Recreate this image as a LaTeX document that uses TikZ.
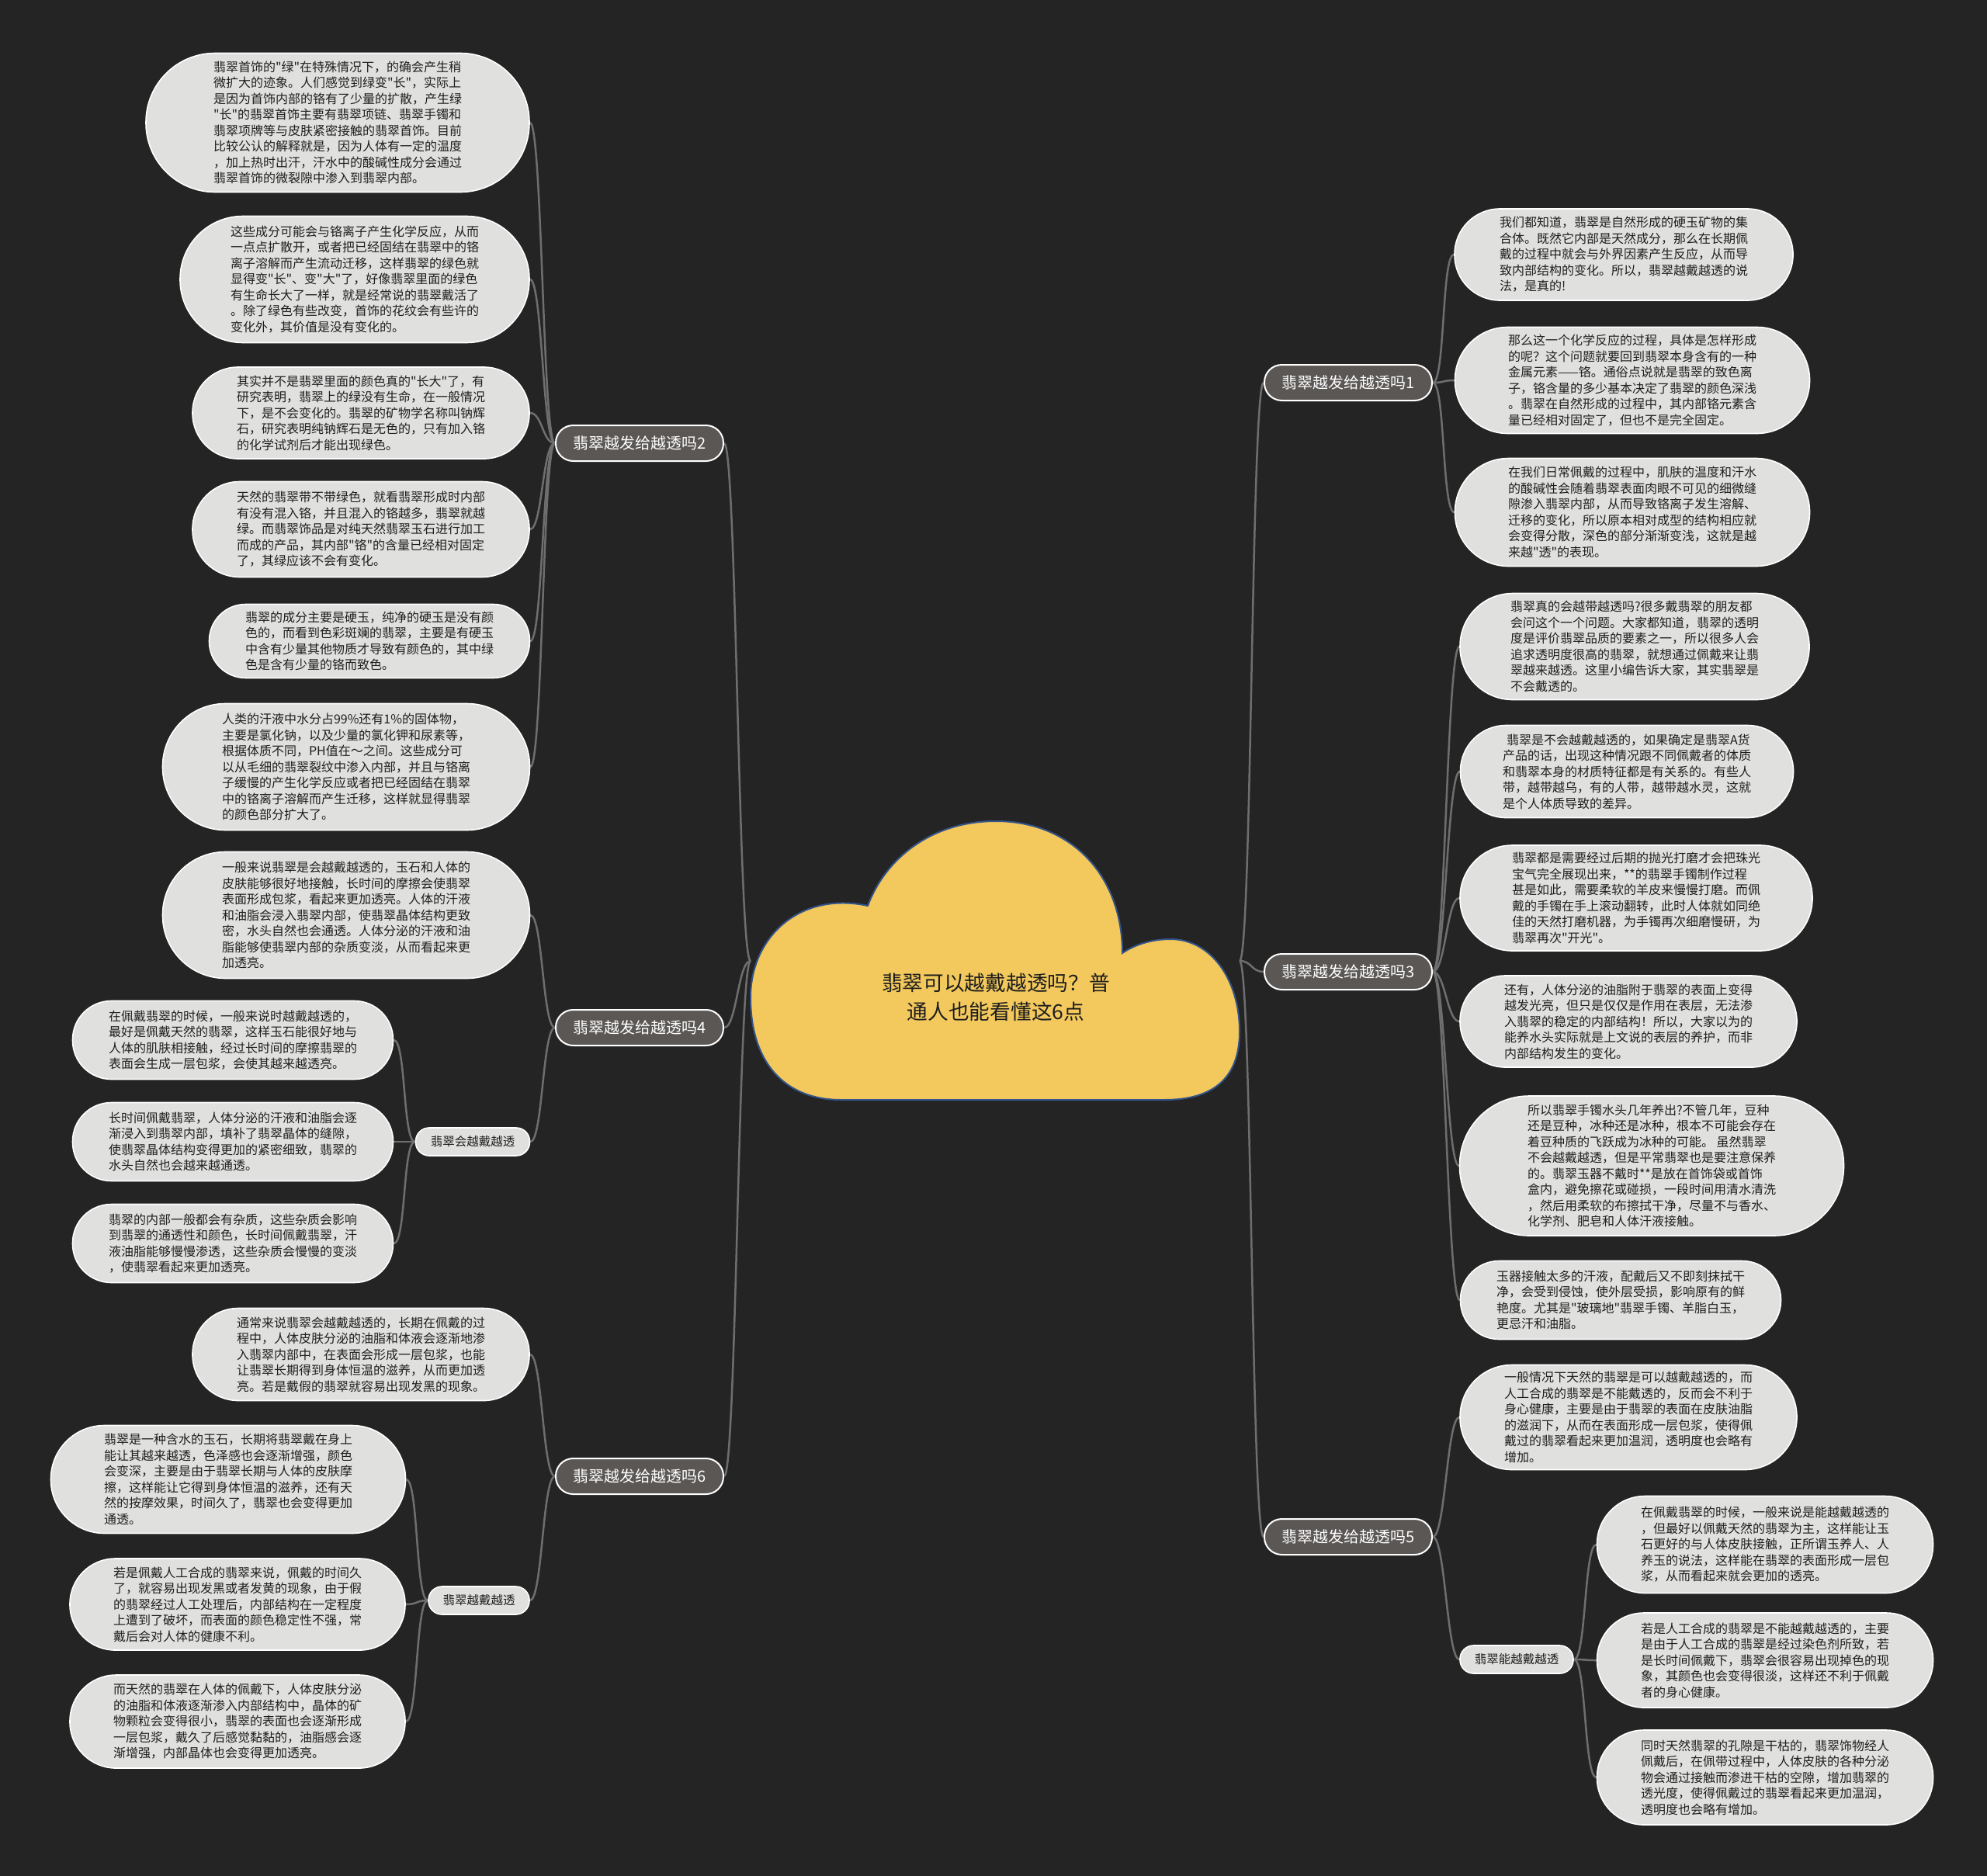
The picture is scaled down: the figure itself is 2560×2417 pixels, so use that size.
\documentclass[tikz,border=0pt]{standalone}
\usepackage{fontspec}
\setmainfont{Noto Sans CJK SC}
\newfontfamily\cjkf{Noto Sans CJK SC}
\definecolor{bgc}{HTML}{242424}
\definecolor{leaffill}{HTML}{E0E0DF}
\definecolor{branchfill}{HTML}{5A5755}
\definecolor{cloudfill}{HTML}{F3C95D}
\definecolor{cloudline}{HTML}{34548A}
\definecolor{conncol}{HTML}{6E6E6E}
\definecolor{txt}{HTML}{1E1E1E}
\pgfdeclarelayer{back}
\pgfsetlayers{back,main}
\tikzset{
 leafbox/.style={draw=white, line width=1.6pt, fill=leaffill, text=txt, align=left, inner sep=0pt, font=\cjkf\fontsize{16}{20.5}\selectfont},
 branchbox/.style={draw=white, line width=2pt, fill=branchfill, text=white, inner sep=0pt, minimum width=216pt, minimum height=46pt, rounded corners=22.5pt, font=\cjkf\fontsize{20}{24}\selectfont},
 subbox/.style={draw=white, line width=1.6pt, fill=leaffill, text=txt, inner sep=0pt, minimum height=36pt, rounded corners=17.5pt, font=\cjkf\fontsize{15.5}{18}\selectfont},
 connline/.style={draw=conncol, line width=2.5pt},
 rootbox/.style={text=txt, align=center, inner sep=0pt, font=\cjkf\fontsize{26.7}{37.5}\selectfont},
}
\newcommand\leafat[6]{\node[leafbox,minimum width=#4pt,minimum height=#5pt,rounded corners=#5pt/2-0.5pt] (#1) at (#2,#3) {#6};}
\newcommand\linkL[2]{\draw[connline] (#1) .. controls +(-16,0) and +(16,0) .. (#2);}
\newcommand\linkR[2]{\draw[connline] (#1) .. controls +(16,0) and +(-16,0) .. (#2);}
\begin{document}
\begin{tikzpicture}[x=1pt,y=-1pt]
\begin{pgfonlayer}{back}
\fill[bgc] (0,0) rectangle (2560,2417);
\end{pgfonlayer}
\useasboundingbox (0,0) rectangle (2560,2417);

% central cloud
\draw[fill=cloudfill, draw=cloudline, line width=2pt]
 (1084,1417) -- (1500,1417)
 .. controls (1562,1417) and (1597,1390) .. (1597,1329)
 .. controls (1597,1262) and (1560,1210) .. (1508,1210)
 .. controls (1484,1210) and (1462,1217) .. (1446,1228)
 .. controls (1446,1128) and (1380,1058) .. (1283,1058)
 .. controls (1198,1058) and (1140,1108) .. (1118,1167)
 .. controls (1030,1148) and (967,1208) .. (967,1285)
 .. controls (967,1368) and (1010,1417) .. (1084,1417) -- cycle;
\node[rootbox] (root) at (1283,1285) {翡翠可以越戴越透吗？普\\通人也能看懂这6点};
\coordinate (rootW) at (967,1238);
\coordinate (rootE) at (1597,1238);

% main branches
\node[branchbox] (B1) at (1737,493) {翡翠越发给越透吗1};
\node[branchbox] (B3) at (1737,1252) {翡翠越发给越透吗3};
\node[branchbox] (B5) at (1737,1980) {翡翠越发给越透吗5};
\node[branchbox] (B2) at (824,571) {翡翠越发给越透吗2};
\node[branchbox] (B4) at (824,1324) {翡翠越发给越透吗4};
\node[branchbox] (B6) at (824,1902) {翡翠越发给越透吗6};

% sub branches
\node[subbox, minimum width=147pt] (S4) at (609,1471) {翡翠会越戴越透};
\node[subbox, minimum width=130pt] (S6) at (617,2062) {翡翠越戴越透};
\node[subbox, minimum width=146pt] (S5) at (1954,2138) {翡翠能越戴越透};

% left leaves
\leafat{L1}{435}{158}{494}{179}{翡翠首饰的"绿"在特殊情况下，的确会产生稍\\微扩大的迹象。人们感觉到绿变"长"，实际上\\是因为首饰内部的铬有了少量的扩散，产生绿\\"长"的翡翠首饰主要有翡翠项链、翡翠手镯和\\翡翠项牌等与皮肤紧密接触的翡翠首饰。目前\\比较公认的解释就是，因为人体有一定的温度\\，加上热时出汗，汗水中的酸碱性成分会通过\\翡翠首饰的微裂隙中渗入到翡翠内部。}
\leafat{L2}{457}{360}{450}{163}{这些成分可能会与铬离子产生化学反应，从而\\一点点扩散开，或者把已经固结在翡翠中的铬\\离子溶解而产生流动迁移，这样翡翠的绿色就\\显得变"长"、变"大"了，好像翡翠里面的绿色\\有生命长大了一样，就是经常说的翡翠戴活了\\。除了绿色有些改变，首饰的花纹会有些许的\\变化外，其价值是没有变化的。}
\leafat{L3}{465}{532}{434}{118}{其实并不是翡翠里面的颜色真的"长大"了，有\\研究表明，翡翠上的绿没有生命，在一般情况\\下，是不会变化的。翡翠的矿物学名称叫钠辉\\石，研究表明纯钠辉石是无色的，只有加入铬\\的化学试剂后才能出现绿色。}
\leafat{L4}{465}{682}{434}{123}{天然的翡翠带不带绿色，就看翡翠形成时内部\\有没有混入铬，并且混入的铬越多，翡翠就越\\绿。而翡翠饰品是对纯天然翡翠玉石进行加工\\而成的产品，其内部"铬"的含量已经相对固定\\了，其绿应该不会有变化。}
\leafat{L5}{476}{826}{413}{95}{翡翠的成分主要是硬玉，纯净的硬玉是没有颜\\色的，而看到色彩斑斓的翡翠，主要是有硬玉\\中含有少量其他物质才导致有颜色的，其中绿\\色是含有少量的铬而致色。}
\leafat{L6}{446}{988}{473}{163}{人类的汗液中水分占99\%还有1\%的固体物，\\主要是氯化钠，以及少量的氯化钾和尿素等，\\根据体质不同，PH值在～之间。这些成分可\\以从毛细的翡翠裂纹中渗入内部，并且与铬离\\子缓慢的产生化学反应或者把已经固结在翡翠\\中的铬离子溶解而产生迁移，这样就显得翡翠\\的颜色部分扩大了。}
\leafat{L7}{446}{1179}{473}{163}{一般来说翡翠是会越戴越透的，玉石和人体的\\皮肤能够很好地接触，长时间的摩擦会使翡翠\\表面形成包浆，看起来更加透亮。人体的汗液\\和油脂会浸入翡翠内部，使翡翠晶体结构更致\\密，水头自然也会通透。人体分泌的汗液和油\\脂能够使翡翠内部的杂质变淡，从而看起来更\\加透亮。}
\leafat{L8}{300}{1340}{413}{101}{在佩戴翡翠的时候，一般来说时越戴越透的，\\最好是佩戴天然的翡翠，这样玉石能很好地与\\人体的肌肤相接触，经过长时间的摩擦翡翠的\\表面会生成一层包浆，会使其越来越透亮。}
\leafat{L9}{300}{1471}{413}{101}{长时间佩戴翡翠，人体分泌的汗液和油脂会逐\\渐浸入到翡翠内部，填补了翡翠晶体的缝隙，\\使翡翠晶体结构变得更加的紧密细致，翡翠的\\水头自然也会越来越通透。}
\leafat{L10}{300}{1602}{413}{101}{翡翠的内部一般都会有杂质，这些杂质会影响\\到翡翠的通透性和颜色，长时间佩戴翡翠，汗\\液油脂能够慢慢渗透，这些杂质会慢慢的变淡\\，使翡翠看起来更加透亮。}
\leafat{L11}{465}{1745}{434}{119}{通常来说翡翠会越戴越透的，长期在佩戴的过\\程中，人体皮肤分泌的油脂和体液会逐渐地渗\\入翡翠内部中，在表面会形成一层包浆，也能\\让翡翠长期得到身体恒温的滋养，从而更加透\\亮。若是戴假的翡翠就容易出现发黑的现象。}
\leafat{L12}{294}{1906}{457}{139}{翡翠是一种含水的玉石，长期将翡翠戴在身上\\能让其越来越透，色泽感也会逐渐增强，颜色\\会变深，主要是由于翡翠长期与人体的皮肤摩\\擦，这样能让它得到身体恒温的滋养，还有天\\然的按摩效果，时间久了，翡翠也会变得更加\\通透。}
\leafat{L13}{306}{2067}{432}{118}{若是佩戴人工合成的翡翠来说，佩戴的时间久\\了，就容易出现发黑或者发黄的现象，由于假\\的翡翠经过人工处理后，内部结构在一定程度\\上遭到了破坏，而表面的颜色稳定性不强，常\\戴后会对人体的健康不利。}
\leafat{L14}{306}{2218}{432}{120}{而天然的翡翠在人体的佩戴下，人体皮肤分泌\\的油脂和体液逐渐渗入内部结构中，晶体的矿\\物颗粒会变得很小，翡翠的表面也会逐渐形成\\一层包浆，戴久了后感觉黏黏的，油脂感会逐\\渐增强，内部晶体也会变得更加透亮。}

% right leaves
\leafat{R1}{2092}{328}{436}{118}{我们都知道，翡翠是自然形成的硬玉矿物的集\\合体。既然它内部是天然成分，那么在长期佩\\戴的过程中就会与外界因素产生反应，从而导\\致内部结构的变化。所以，翡翠越戴越透的说\\法，是真的!}
\leafat{R2}{2103}{490}{457}{137}{那么这一个化学反应的过程，具体是怎样形成\\的呢？这个问题就要回到翡翠本身含有的一种\\金属元素——铬。通俗点说就是翡翠的致色离\\子，铬含量的多少基本决定了翡翠的颜色深浅\\。翡翠在自然形成的过程中，其内部铬元素含\\量已经相对固定了，但也不是完全固定。}
\leafat{R3}{2103}{660}{457}{139}{在我们日常佩戴的过程中，肌肤的温度和汗水\\的酸碱性会随着翡翠表面肉眼不可见的细微缝\\隙渗入翡翠内部，从而导致铬离子发生溶解、\\迁移的变化，所以原本相对成型的结构相应就\\会变得分散，深色的部分渐渐变浅，这就是越\\来越"透"的表现。}
\leafat{R4}{2106}{833}{450}{137}{翡翠真的会越带越透吗?很多戴翡翠的朋友都\\会问这个一个问题。大家都知道，翡翠的透明\\度是评价翡翠品质的要素之一，所以很多人会\\追求透明度很高的翡翠，就想通过佩戴来让翡\\翠越来越透。这里小编告诉大家，其实翡翠是\\不会戴透的。}
\leafat{R5}{2096}{994}{429}{119}{\hspace*{5pt}翡翠是不会越戴越透的，如果确定是翡翠A货\\产品的话，出现这种情况跟不同佩戴者的体质\\和翡翠本身的材质特征都是有关系的。有些人\\带，越带越乌，有的人带，越带越水灵，这就\\是个人体质导致的差异。}
\leafat{R6}{2108}{1157}{454}{136}{翡翠都是需要经过后期的抛光打磨才会把珠光\\宝气完全展现出来，**的翡翠手镯制作过程\\甚是如此，需要柔软的羊皮来慢慢打磨。而佩\\戴的手镯在手上滚动翻转，此时人体就如同绝\\佳的天然打磨机器，为手镯再次细磨慢研，为\\翡翠再次"开光"。}
\leafat{R7}{2098}{1316}{434}{118}{还有，人体分泌的油脂附于翡翠的表面上变得\\越发光亮，但只是仅仅是作用在表层，无法渗\\入翡翠的稳定的内部结构！所以，大家以为的\\能养水头实际就是上文说的表层的养护，而非\\内部结构发生的变化。}
\leafat{R8}{2128}{1502}{495}{180}{所以翡翠手镯水头几年养出?不管几年，豆种\\还是豆种，冰种还是冰种，根本不可能会存在\\着豆种质的飞跃成为冰种的可能。 虽然翡翠\\不会越戴越透，但是平常翡翠也是要注意保养\\的。翡翠玉器不戴时**是放在首饰袋或首饰\\盒内，避免擦花或碰损，一段时间用清水清洗\\，然后用柔软的布擦拭干净，尽量不与香水、\\化学剂、肥皂和人体汗液接触。}
\leafat{R9}{2088}{1675}{413}{101}{玉器接触太多的汗液，配戴后又不即刻抹拭干\\净，会受到侵蚀，使外层受损，影响原有的鲜\\艳度。尤其是"玻璃地"翡翠手镯、羊脂白玉，\\更忌汗和油脂。}
\leafat{R10}{2098}{1826}{434}{135}{一般情况下天然的翡翠是可以越戴越透的，而\\人工合成的翡翠是不能戴透的，反而会不利于\\身心健康，主要是由于翡翠的表面在皮肤油脂\\的滋润下，从而在表面形成一层包浆，使得佩\\戴过的翡翠看起来更加温润，透明度也会略有\\增加。}
\leafat{R11}{2274}{1990}{433}{125}{在佩戴翡翠的时候，一般来说是能越戴越透的\\，但最好以佩戴天然的翡翠为主，这样能让玉\\石更好的与人体皮肤接触，正所谓玉养人、人\\养玉的说法，这样能在翡翠的表面形成一层包\\浆，从而看起来就会更加的透亮。}
\leafat{R12}{2274}{2139}{433}{122}{若是人工合成的翡翠是不能越戴越透的，主要\\是由于人工合成的翡翠是经过染色剂所致，若\\是长时间佩戴下，翡翠会很容易出现掉色的现\\象，其颜色也会变得很淡，这样还不利于佩戴\\者的身心健康。}
\leafat{R13}{2274}{2290}{433}{122}{同时天然翡翠的孔隙是干枯的，翡翠饰物经人\\佩戴后，在佩带过程中，人体皮肤的各种分泌\\物会通过接触而渗进干枯的空隙，增加翡翠的\\透光度，使得佩戴过的翡翠看起来更加温润，\\透明度也会略有增加。}

% connectors
\begin{pgfonlayer}{back}
\linkL{rootW}{B2.east}
\linkL{rootW}{B4.east}
\linkL{rootW}{B6.east}
\linkR{rootE}{B1.west}
\linkR{rootE}{B3.west}
\linkR{rootE}{B5.west}
\foreach \c in {L1,L2,L3,L4,L5,L6} {\linkL{B2.west}{\c.east}}
\linkL{B4.west}{L7.east}
\linkL{B4.west}{S4.east}
\foreach \c in {L8,L9,L10} {\linkL{S4.west}{\c.east}}
\linkL{B6.west}{L11.east}
\linkL{B6.west}{S6.east}
\foreach \c in {L12,L13,L14} {\linkL{S6.west}{\c.east}}
\foreach \c in {R1,R2,R3} {\linkR{B1.east}{\c.west}}
\foreach \c in {R4,R5,R6,R7,R8,R9} {\linkR{B3.east}{\c.west}}
\linkR{B5.east}{R10.west}
\linkR{B5.east}{S5.west}
\foreach \c in {R11,R12,R13} {\linkR{S5.east}{\c.west}}
\end{pgfonlayer}
\end{tikzpicture}
\end{document}
